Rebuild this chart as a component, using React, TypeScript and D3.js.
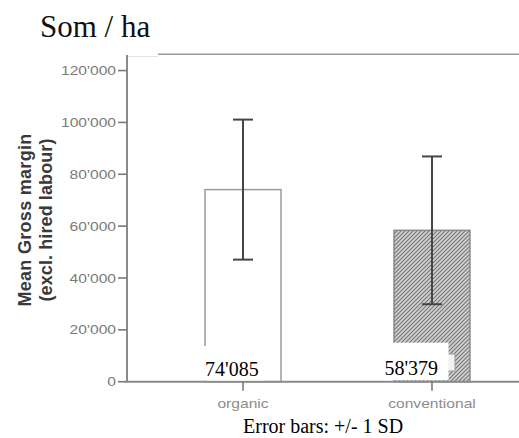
import * as d3 from 'd3'

const categories = ['organic', 'conventional']
const means = [74085, 58379]
const sds = [27000, 28500]
const yTicks = [0, 20000, 40000, 60000, 80000, 100000, 120000]

const W = 519
const H = 438
const margin = { left: 127, top: 55, bottom: 381.7 }
const plotRight = 548

const fmt = (v: number) => d3.format(',')(v).replace(/,/g, "'")

export default function App() {
  const x = d3
    .scaleBand<string>()
    .domain(categories)
    .range([margin.left, plotRight])
    .paddingInner(0.598)
    .paddingOuter(0.413)
  const y = d3.scaleLinear().domain([0, 126000]).range([margin.bottom, margin.top])

  const bw = x.bandwidth()
  const capW = 20
  const sans = 'Arial, "Liberation Sans", sans-serif'
  const serif = '"Times New Roman", "Liberation Serif", serif'

  return (
    <svg
      width={W}
      height={H}
      style={{ position: 'absolute', left: 0, top: 0, background: '#fff' }}
    >
      <defs>
        <pattern id="hatch" width={4} height={4} patternUnits="userSpaceOnUse">
          <rect width={4} height={4} fill="#d2d2d2" />
          <path d="M0,4 L4,0 M-1,1 L1,-1 M3,5 L5,3" stroke="#767676" strokeWidth={1.1} />
          <path d="M0,0 L4,4" stroke="#b0b0b0" strokeWidth={0.6} />
        </pattern>
      </defs>

      {/* title */}
      <text x={40} y={37} fontFamily={serif} fontSize={31} fill="#111">
        Som / ha
      </text>

      {/* frame top */}
      <line x1={158} x2={W} y1={54.3} y2={54.3} stroke="#9a9a9a" strokeWidth={1.5} />
      <line x1={128} x2={158} y1={56.5} y2={56.5} stroke="#e2e2e2" strokeWidth={1} />

      {/* bars */}
      {categories.map((c, i) => {
        const x0 = x(c) as number
        return (
          <rect
            key={c}
            x={x0}
            y={y(means[i])}
            width={bw}
            height={y(0) - y(means[i])}
            fill={i === 0 ? '#fff' : 'url(#hatch)'}
            stroke={i === 0 ? '#9c9c9c' : '#8a8a8a'}
            strokeWidth={1.5}
          />
        )
      })}

      {/* error bars */}
      {categories.map((c, i) => {
        const cx = (x(c) as number) + bw / 2
        const hi = y(means[i] + sds[i])
        const lo = y(means[i] - sds[i])
        return (
          <g key={c} stroke="#454545" strokeWidth={2}>
            <line x1={cx} x2={cx} y1={hi} y2={lo} />
            <line x1={cx - capW / 2} x2={cx + capW / 2} y1={hi} y2={hi} />
            <line x1={cx - capW / 2} x2={cx + capW / 2} y1={lo} y2={lo} />
          </g>
        )
      })}

      {/* y axis */}
      <line x1={margin.left} x2={margin.left} y1={margin.top} y2={y(0)} stroke="#8a8a8a" strokeWidth={2} />
      {yTicks.map((t) => (
        <g key={t}>
          <line x1={margin.left - 9} x2={margin.left} y1={y(t)} y2={y(t)} stroke="#7a7a7a" strokeWidth={1.6} />
          <text
            transform={`translate(${margin.left - 11},${y(t) + 4.6}) scale(1.22,1)`}
            textAnchor="end"
            fontFamily={sans}
            fontSize={12.8}
            fill="#7a7a7a"
          >
            {fmt(t)}
          </text>
        </g>
      ))}

      {/* x axis */}
      <line x1={margin.left - 2} x2={W} y1={y(0)} y2={y(0)} stroke="#8a8a8a" strokeWidth={2} />
      {categories.map((c) => {
        const cx = (x(c) as number) + bw / 2
        return (
          <g key={c}>
            <line x1={cx} x2={cx} y1={y(0)} y2={y(0) + 9} stroke="#7a7a7a" strokeWidth={1.6} />
            <text
              transform={`translate(${cx},${y(0) + 26}) scale(1.27,1)`}
              textAnchor="middle"
              fontFamily={sans}
              fontSize={12.3}
              fill="#8c8c8c"
            >
              {c}
            </text>
          </g>
        )
      })}

      {/* y axis title */}
      <g transform="translate(31,220) rotate(-90)">
        <text textAnchor="middle" fontFamily={sans} fontWeight="bold" fontSize={18} fill="#3a3a3a" letterSpacing={0.3}>
          Mean Gross margin
        </text>
        <text y={20.5} textAnchor="middle" fontFamily={sans} fontWeight="bold" fontSize={18} fill="#3a3a3a" letterSpacing={0.1}>
          (excl. hired labour)
        </text>
      </g>

      {/* remnant of original label */}
      <rect x={446} y={354} width={9} height={17} fill="#f2f2f2" stroke="#9a9a9a" strokeWidth={1} />

      {/* value labels */}
      {categories.map((c, i) => {
        const x0 = x(c) as number
        const bx = i === 0 ? x0 - 1 : x0 - 14.5
        return (
          <g key={c}>
            <rect x={bx} y={i === 0 ? 346 : 342.7} width={i === 0 ? 60 : 69} height={i === 0 ? 34.5 : 37.5} fill="#fff" />
            <text x={bx + (i === 0 ? 1 : 5)} y={i === 0 ? 376 : 375} fontFamily={serif} fontSize={20} fill="#000">
              {fmt(means[i])}
            </text>
          </g>
        )
      })}

      {/* footnote */}
      <text x={243} y={433} fontFamily={serif} fontSize={20} fill="#000">
        Error bars: +/- 1 SD
      </text>
    </svg>
  )
}
